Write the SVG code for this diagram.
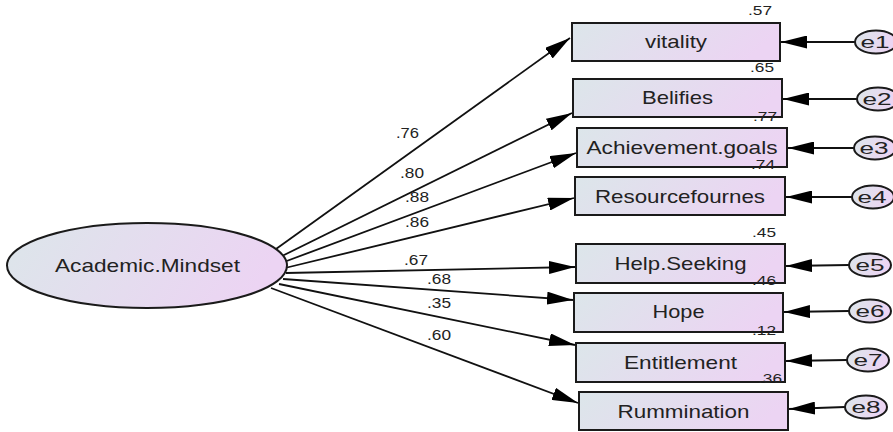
<svg xmlns="http://www.w3.org/2000/svg" width="893" height="432" viewBox="0 0 893 432">
<style>
.box{stroke:#1a1a1a;stroke-width:2;fill:url(#g)}
.lbl{font-family:"Liberation Sans",Arial,sans-serif;font-size:19px;fill:#222;text-anchor:middle}
.el{font-family:"Liberation Sans",Arial,sans-serif;font-size:16px;fill:#222;text-anchor:middle}
.num{font-family:"Liberation Sans",Arial,sans-serif;font-size:14px;fill:#222}
.r2{font-family:"Liberation Sans",Arial,sans-serif;font-size:13.5px;fill:#222;text-anchor:middle}
.ln{stroke:#111;stroke-width:1.8;fill:none;marker-end:url(#ah)}
</style>
<defs>
<linearGradient id="g" x1="0" y1="0" x2="1" y2="0.2">
<stop offset="0" stop-color="#dce6ea"/>
<stop offset="1" stop-color="#ecd4f3"/>
</linearGradient>
<marker id="ah" markerUnits="userSpaceOnUse" markerWidth="26" markerHeight="13" refX="26" refY="6.5" orient="auto">
<path d="M0,0 L26,6.5 L0,13 z" fill="#000"/>
</marker>
</defs>
<rect width="893" height="432" fill="#fff"/>
<g id="connectors">
<line class="ln" x1="276" y1="249" x2="570" y2="38"/>
<line class="ln" x1="282" y1="256" x2="572" y2="113"/>
<line class="ln" x1="284" y1="262" x2="576" y2="153"/>
<line class="ln" x1="285" y1="268" x2="574" y2="198"/>
<line class="ln" x1="286" y1="273" x2="575" y2="267"/>
<line class="ln" x1="283" y1="279" x2="573" y2="300"/>
<line class="ln" x1="279" y1="284" x2="575" y2="345"/>
<line class="ln" x1="271" y1="288" x2="578" y2="403"/>
<line class="ln" x1="855" y1="42" x2="781" y2="42"/>
<line class="ln" x1="857" y1="99" x2="783" y2="99"/>
<line class="ln" x1="854" y1="148" x2="788" y2="148"/>
<line class="ln" x1="852" y1="197" x2="786" y2="197"/>
<line class="ln" x1="849" y1="265" x2="786" y2="266"/>
<line class="ln" x1="849" y1="311" x2="784" y2="312"/>
<line class="ln" x1="847" y1="360" x2="786" y2="361"/>
<line class="ln" x1="845" y1="407" x2="789" y2="409"/>
<text class="num" x="396" y="138" textLength="23" lengthAdjust="spacingAndGlyphs">.76</text>
<text class="num" x="400" y="178" textLength="24" lengthAdjust="spacingAndGlyphs">.80</text>
<text class="num" x="405" y="202" textLength="24" lengthAdjust="spacingAndGlyphs">.88</text>
<text class="num" x="405" y="227" textLength="24" lengthAdjust="spacingAndGlyphs">.86</text>
<text class="num" x="404" y="265" textLength="24" lengthAdjust="spacingAndGlyphs">.67</text>
<text class="num" x="427" y="284" textLength="24" lengthAdjust="spacingAndGlyphs">.68</text>
<text class="num" x="427" y="308" textLength="24" lengthAdjust="spacingAndGlyphs">.35</text>
<text class="num" x="427" y="340" textLength="24" lengthAdjust="spacingAndGlyphs">.60</text>
</g>
<g id="academic-mindset">
<ellipse class="box" cx="147" cy="265.5" rx="140" ry="42.5"/>
<text class="lbl" x="147.5" y="272" textLength="185" lengthAdjust="spacingAndGlyphs">Academic.Mindset</text>
</g>
<g id="vitality">
<rect class="box" x="572" y="23" width="208" height="38"/>
<text class="lbl" x="676" y="48" textLength="62" lengthAdjust="spacingAndGlyphs">vitality</text>
<text class="r2" x="760" y="15" textLength="24" lengthAdjust="spacingAndGlyphs">.57</text>
</g>
<g id="belifies">
<rect class="box" x="573" y="79" width="209" height="38"/>
<text class="lbl" x="677.5" y="104" textLength="71" lengthAdjust="spacingAndGlyphs">Belifies</text>
<text class="r2" x="762" y="72" textLength="24" lengthAdjust="spacingAndGlyphs">.65</text>
</g>
<g id="achievement-goals">
<rect class="box" x="577" y="128" width="210" height="39"/>
<text class="lbl" x="682" y="154" textLength="191" lengthAdjust="spacingAndGlyphs">Achievement.goals</text>
<text class="r2" x="765" y="121" textLength="24" lengthAdjust="spacingAndGlyphs">.77</text>
</g>
<g id="resourcefournes">
<rect class="box" x="575" y="177" width="210" height="38"/>
<text class="lbl" x="680" y="203" textLength="170" lengthAdjust="spacingAndGlyphs">Resourcefournes</text>
<text class="r2" x="763" y="169" textLength="24" lengthAdjust="spacingAndGlyphs">.74</text>
</g>
<g id="help-seeking">
<rect class="box" x="576" y="244" width="209" height="39"/>
<text class="lbl" x="680.5" y="270" textLength="132" lengthAdjust="spacingAndGlyphs">Help.Seeking</text>
<text class="r2" x="764" y="237" textLength="24" lengthAdjust="spacingAndGlyphs">.45</text>
</g>
<g id="hope">
<rect class="box" x="574" y="293" width="209" height="39"/>
<text class="lbl" x="678.5" y="318" textLength="52" lengthAdjust="spacingAndGlyphs">Hope</text>
<text class="r2" x="764" y="285" textLength="24" lengthAdjust="spacingAndGlyphs">.46</text>
</g>
<g id="entitlement">
<rect class="box" x="576" y="343" width="209" height="39"/>
<text class="lbl" x="680.5" y="369" textLength="113" lengthAdjust="spacingAndGlyphs">Entitlement</text>
<text class="r2" x="764" y="335" textLength="24" lengthAdjust="spacingAndGlyphs">.12</text>
</g>
<g id="rummination">
<rect class="box" x="579" y="392" width="209" height="38"/>
<text class="lbl" x="683.5" y="418" textLength="132" lengthAdjust="spacingAndGlyphs">Rummination</text>
<text class="r2" x="770" y="383" textLength="24" lengthAdjust="spacingAndGlyphs">.36</text>
</g>
<g id="e1"><ellipse class="box" cx="876" cy="42" rx="21" ry="11.5"/><text class="el" x="875" y="48" textLength="29" lengthAdjust="spacingAndGlyphs">e1</text></g>
<g id="e2"><ellipse class="box" cx="878" cy="99" rx="21" ry="11.5"/><text class="el" x="877" y="105" textLength="29" lengthAdjust="spacingAndGlyphs">e2</text></g>
<g id="e3"><ellipse class="box" cx="875" cy="148" rx="21" ry="11.5"/><text class="el" x="874" y="154" textLength="29" lengthAdjust="spacingAndGlyphs">e3</text></g>
<g id="e4"><ellipse class="box" cx="873" cy="197" rx="21" ry="11.5"/><text class="el" x="872" y="203" textLength="29" lengthAdjust="spacingAndGlyphs">e4</text></g>
<g id="e5"><ellipse class="box" cx="870" cy="265" rx="21" ry="11.5"/><text class="el" x="870" y="271" textLength="29" lengthAdjust="spacingAndGlyphs">e5</text></g>
<g id="e6"><ellipse class="box" cx="870" cy="311" rx="21" ry="11.5"/><text class="el" x="870" y="317" textLength="29" lengthAdjust="spacingAndGlyphs">e6</text></g>
<g id="e7"><ellipse class="box" cx="868" cy="360" rx="21" ry="11.5"/><text class="el" x="868" y="366" textLength="29" lengthAdjust="spacingAndGlyphs">e7</text></g>
<g id="e8"><ellipse class="box" cx="866" cy="407" rx="21" ry="11.5"/><text class="el" x="866" y="413" textLength="29" lengthAdjust="spacingAndGlyphs">e8</text></g>
</svg>
